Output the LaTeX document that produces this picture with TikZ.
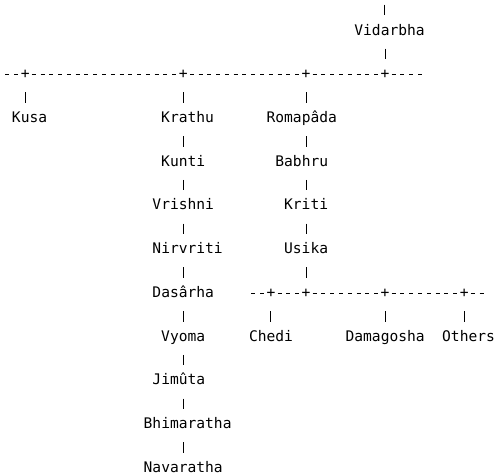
\documentclass[tikz,border=0pt]{standalone}
\usepackage{fontspec}
\newfontfamily\asciifont{DejaVu Sans Mono}

\begin{document}
\begin{tikzpicture}[x=8.78pt,y=-21.87pt,
        personbox/.style={font=\asciifont\fontsize{14.6}{14.6}\selectfont, inner sep=0pt, text height=10.5pt, text depth=0pt, anchor=base west},
        plusbox/.style={personbox, fill=white},
        stemline/.style={line width=1pt, shorten <=13.4pt, shorten >=8.9pt},
        busline/.style={line width=1pt, dash pattern=on 4pt off 4.78pt, dash phase=6.39pt}]
    \useasboundingbox (0pt,0pt) rectangle (498pt,-475pt);
    \begin{scope}[shift={(3pt,-13.13pt)}]
        % bus lines
        \coordinate (westend) at (0,2.826);
        \coordinate (eastend) at (48,2.826);
        \coordinate (sonwest) at (28,12.826);
        \coordinate (soneast) at (55,12.826);
        \draw[busline] (westend) -- (eastend);
        \draw[busline] (sonwest) -- (soneast);

        \node (j1) [plusbox] at (2,3) {+};
        \node (j2) [plusbox] at (20,3) {+};
        \node (j3) [plusbox] at (34,3) {+};
        \node (j4) [plusbox] at (43,3) {+};
        \node (jb1) [plusbox] at (30,13) {+};
        \node (jb2) [plusbox] at (34,13) {+};
        \node (jb3) [plusbox] at (43,13) {+};
        \node (jb4) [plusbox] at (52,13) {+};

        \node (vidarbha) [personbox] at (40,1) {Vidarbha};
        \node (kusa) [personbox] at (1,5) {Kusa};
        \node (krathu) [personbox] at (18,5) {Krathu};
        \node (romapada) [personbox] at (30,5) {Romapâda};
        \node (kunti) [personbox] at (18,7) {Kunti};
        \node (babhru) [personbox] at (31,7) {Babhru};
        \node (vrishni) [personbox] at (17,9) {Vrishni};
        \node (kriti) [personbox] at (32,9) {Kriti};
        \node (nirvriti) [personbox] at (17,11) {Nirvriti};
        \node (usika) [personbox] at (32,11) {Usika};
        \node (dasarha) [personbox] at (17,13) {Dasârha};
        \node (vyoma) [personbox] at (18,15) {Vyoma};
        \node (chedi) [personbox] at (28,15) {Chedi};
        \node (damagosha) [personbox] at (39,15) {Damagosha};
        \node (others) [personbox] at (50,15) {Others};
        \node (jimuta) [personbox] at (17,17) {Jimûta};
        \node (bhimaratha) [personbox] at (16,19) {Bhimaratha};
        \node (navaratha) [personbox] at (16,21) {Navaratha};

        \coordinate (top) at (43.5,-1);
        \draw[stemline] (top) -- (vidarbha.north -| top);
        \draw[stemline] (vidarbha.south -| j4) -- (j4.north);
        \draw[stemline] (j1.south) -- (kusa.north -| j1);
        \draw[stemline] (j2.south) -- (krathu.north -| j2);
        \draw[stemline] (j3.south) -- (romapada.north -| j3);
        \foreach \a/\b in {krathu/kunti, kunti/vrishni, vrishni/nirvriti, nirvriti/dasarha,
                dasarha/vyoma, vyoma/jimuta, jimuta/bhimaratha, bhimaratha/navaratha}
            \draw[stemline] (\a.south -| j2) -- (\b.north -| j2);
        \foreach \a/\b in {romapada/babhru, babhru/kriti, kriti/usika}
            \draw[stemline] (\a.south -| j3) -- (\b.north -| j3);
        \draw[stemline] (usika.south -| jb2) -- (jb2.north);
        \draw[stemline] (jb1.south) -- (chedi.north -| jb1);
        \draw[stemline] (jb3.south) -- (damagosha.north -| jb3);
        \draw[stemline] (jb4.south) -- (others.north -| jb4);
    \end{scope}
\end{tikzpicture}
\end{document}
